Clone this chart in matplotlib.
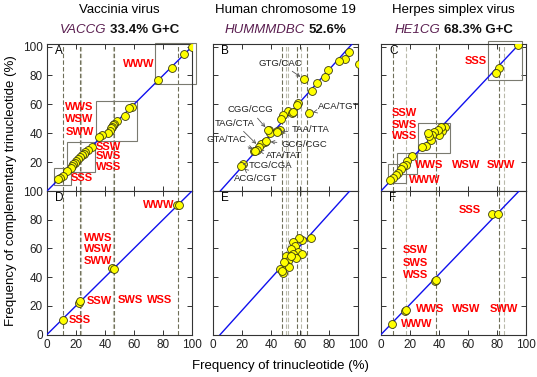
import matplotlib
matplotlib.use("Agg")
import matplotlib.pyplot as plt
from matplotlib.patches import Rectangle
from matplotlib.offsetbox import TextArea, HPacker, AnchoredOffsetbox

plt.rcParams['font.family'] = ['Liberation Sans', 'DejaVu Sans']

# ---- data ----
titles = ["Vaccinia virus", "Human chromosome 19", "Herpes simplex virus"]
codes = ["VACCG", "HUMMMDBC", "HE1CG"]
gc_texts = ["33.4% G+C", "52.6%", "68.3% G+C"]

# A: Vaccinia, all trinucleotide pairs
a_x = [99.8, 94.7, 86.0, 76.8, 58.4, 56.8, 53.8, 48.5, 46.0, 45.3, 44.5, 44.0, 43.5, 42.3, 37.7, 36.1,
       30.8, 28.5, 26.5, 25.7, 24.0, 22.8, 21.5, 20.1, 19.0, 18.2, 17.0, 16.4, 13.6, 10.8, 9.0, 7.9]
a_y = [100.0, 94.7, 85.0, 76.9, 58.5, 57.3, 51.6, 48.2, 46.5, 45.4, 44.0, 43.5, 41.7, 40.1, 38.5, 37.3,
       30.4, 28.6, 27.0, 25.6, 24.8, 23.3, 22.0, 21.0, 19.5, 18.7, 17.1, 16.0, 13.6, 10.6, 9.2, 8.0]
a_boxes = [(5.0, 4.3, 16.3, 15.9), (14.0, 12.9, 33.0, 33.6), (33.8, 34.8, 61.9, 62.4), (74.5, 74.0, 102.8, 102.3)]

# B: human chromosome 19
b_x = [93.5, 91.2, 87.0, 100.5, 79.6, 77.3, 71.5, 62.7, 68.0, 58.8, 58.1, 66.2, 51.9, 54.6, 48.4, 47.2,
       46.5, 44.2, 38.4, 39.6, 38.0, 36.1, 33.3, 31.9, 30.3, 28.5, 20.4, 19.4, 43.8, 36.8, 29.2, 55.0]
b_y = [96.5, 91.4, 90.0, 87.8, 83.9, 79.2, 75.1, 77.4, 69.3, 60.8, 59.4, 53.9, 55.1, 53.9, 52.5, 50.2,
       42.2, 41.5, 42.2, 40.3, 42.0, 34.1, 32.5, 30.6, 28.3, 27.6, 18.7, 17.3, 40.6, 34.3, 27.9, 54.5]
# label, index of point, label position
b_notes = [("GTG/CAC", 7, 46.5, 88.5), ("AAA/TTT", 3, 83.5, 68.9), ("ACA/TGT", 11, 87.0, 58.5),
           ("CGG/CCG", 20, 25.7, 56.2), ("TAG/CTA", 23, 15.3, 47.0), ("TAA/TTA", 28, 67.4, 42.4),
           ("GTA/TAC", 24, 9.5, 35.9), ("GCG/CGC", 29, 62.7, 32.0), ("ATA/TAT", 30, 48.8, 24.7),
           ("TCG/CGA", 26, 39.6, 17.5), ("ACG/CGT", 27, 29.2, 9.0)]

# C: herpes simplex
c_x = [94.4, 81.3, 79.0, 44.2, 41.9, 41.2, 40.0, 39.0, 36.6, 35.4, 34.3, 33.1, 32.4, 30.8, 28.5,
       21.5, 18.0, 16.9, 15.5, 14.1, 11.8, 10.0, 8.1, 6.5]
c_y = [101.1, 85.0, 81.5, 44.0, 41.7, 44.0, 38.5, 42.4, 40.6, 38.5, 35.5, 37.8, 40.0, 30.9, 30.2,
       24.0, 20.5, 18.2, 17.0, 15.2, 12.4, 11.3, 9.0, 7.8]
c_boxes = [(74.1, 76.9, 97.4, 103.9), (25.7, 26.3, 47.4, 47.0), (11.1, 11.7, 25.0, 26.3), (4.9, 5.5, 16.9, 18.7)]

# D, E, F: group means
d_x = [11.3, 22.3, 22.8, 45.0, 46.0, 89.5, 91.3]
d_y = [10.2, 22.0, 23.6, 46.5, 45.5, 90.2, 90.0]
e_x = [67.4, 61.1, 59.3, 55.1, 56.5, 53.5, 58.8, 61.6, 55.1, 50.0, 56.9, 51.9, 50.0, 46.5, 48.1, 52.3,
       53.5, 49.3, 47.4]
e_y = [67.4, 65.7, 66.9, 64.5, 61.5, 59.9, 57.6, 56.4, 56.4, 54.8, 53.4, 51.0, 48.3, 45.9, 43.1, 47.0,
       55.0, 50.6, 44.5]
f_x = [76.5, 80.8, 37.5, 38.0, 16.8, 17.4, 7.8]
f_y = [83.7, 83.7, 37.5, 38.3, 16.5, 17.4, 7.5]

# group words: (word, x, y)
a_words = [("WWW", 63.5, 88.0), ("WWS", 22.5, 58.5), ("WSW", 22.5, 49.8), ("SWW", 22.5, 40.6),
           ("SSW", 42.3, 30.4), ("SWS", 42.3, 24.0), ("WSS", 42.3, 16.6), ("SSS", 23.9, 9.0)]
d_words = [("WWW", 76.8, 90.2), ("WWS", 35.4, 67.3), ("WSW", 35.4, 59.9), ("SWW", 35.4, 51.0),
           ("SSW", 36.1, 23.1), ("SWS", 57.2, 23.8), ("WSS", 77.9, 23.8), ("SSS", 22.3, 9.8)]
c_words = [("SSS", 65.5, 90.0), ("SSW", 16.2, 53.9), ("SWS", 16.2, 45.8), ("WSS", 16.2, 38.2),
           ("WWS", 33.1, 18.2), ("WSW", 58.5, 18.2), ("SWW", 82.9, 18.2), ("WWW", 30.3, 7.8)]
f_words = [("SSS", 60.9, 86.7), ("SSW", 23.8, 59.2), ("SWS", 23.8, 50.1), ("WSS", 23.8, 41.3),
           ("WWS", 33.6, 17.5), ("WSW", 58.6, 17.5), ("SWW", 84.5, 17.5), ("WWW", 24.3, 7.5)]

# fitted lines (slope, intercept) per panel
fits = {"A": (1.0, 0.0), "B": (1.12, -5.6), "C": (1.067, 0.0),
        "D": (1.0, 0.0), "E": (1.12, -5.6), "F": (1.05, 0.0)}

# vertical guide lines per column: dark, light
guides_dark = [[10.8, 22.8, 46.5, 90.0], [47.5, 58.0, 64.5], [8.1, 37.7, 81.7]]
guides_light = [[23.4, 45.6], [50.0, 52.0, 61.0], [17.0, 85.0]]

# ---- figure ----
W, H = 537, 377
fig = plt.figure(figsize=(W / 100, H / 100), dpi=100)

col_left = [47, 213, 381]
col_w = 145
up_top, mid, low_bot = 43.7, 191, 334.5


def make_ax(col, upper):
    l = col_left[col]
    if upper:
        t, b = up_top, mid
    else:
        t, b = mid, low_bot
    ax = fig.add_axes([l / W, 1 - b / H, col_w / W, (b - t) / H])
    ax.set_xlim(0, 100)
    ax.set_ylim(0, 102 if upper else 100)
    ax.set_xticks(range(0, 101, 20))
    ax.set_yticks(range(0, 101, 20))
    ax.tick_params(direction='in', length=3.5, width=0.7, top=True, right=True,
                   labelsize=8.5, colors='#333333', labelcolor='#222222', pad=3)
    for s in ax.spines.values():
        s.set_color('#333333')
        s.set_linewidth(0.8)
    if upper:
        ax.tick_params(labelbottom=False)
    if col != 0:
        ax.tick_params(labelleft=False)
    return ax


def draw_panel(ax, col, letter, xs, ys, words=(), boxes=(), upper=True):
    for gx in guides_dark[col]:
        ax.axvline(gx, color='#6e6e58', lw=0.8, ls=(0, (4, 2)), zorder=1)
    for gx in guides_light[col]:
        ax.axvline(gx, color='#b9b9aa', lw=0.8, ls=(0, (4, 2)), zorder=1)
    for (x0, y0, x1, y1) in boxes:
        ax.add_patch(Rectangle((x0, y0), x1 - x0, y1 - y0, fill=False, ec='#7a7a70',
                               lw=0.8, clip_on=False, zorder=2))
    k, c0 = fits[letter]
    ax.plot([0, 100], [c0, c0 + 100 * k], color='#1010ee', lw=1.0, zorder=3)
    ax.scatter(xs, ys, s=32, c='#ffff00', edgecolors='#3a3a10', linewidths=0.6,
               zorder=4, clip_on=True)
    for w, x, y in words:
        ax.text(x, y, w, color='#ff0000', fontsize=8, fontweight='bold',
                ha='center', va='center', zorder=5)
    ax.text(0.055, 0.95, letter, transform=ax.transAxes, fontsize=8.5,
            ha='left', va='center', zorder=6)


axA = make_ax(0, True)
draw_panel(axA, 0, "A", a_x, a_y, a_words, a_boxes)
axA.set_yticks(range(20, 101, 20))
axB = make_ax(1, True)
draw_panel(axB, 1, "B", b_x, b_y)
for lab, idx, tx, ty in b_notes:
    axB.annotate(lab, xy=(b_x[idx], b_y[idx]), xytext=(tx, ty), fontsize=6.8, color='#222222',
                 ha='center', va='center', zorder=5,
                 arrowprops=dict(arrowstyle='->', color='#555555', lw=0.6,
                                 shrinkA=1, shrinkB=3, mutation_scale=6))
axC = make_ax(2, True)
draw_panel(axC, 2, "C", c_x, c_y, c_words, c_boxes)

axD = make_ax(0, False)
draw_panel(axD, 0, "D", d_x, d_y, d_words, upper=False)
axE = make_ax(1, False)
draw_panel(axE, 1, "E", e_x, e_y, upper=False)
axF = make_ax(2, False)
draw_panel(axF, 2, "F", f_x, f_y, f_words, upper=False)

# titles
for col, ax in enumerate([axA, axB, axC]):
    cx = (col_left[col] + col_w / 2) / W
    fig.text(cx, 1 - 10 / H, titles[col], fontsize=9.5, ha='center', va='center')
    box = HPacker(children=[
        TextArea(codes[col], textprops=dict(fontsize=9.5, style='italic', color='#5a1e50')),
        TextArea(gc_texts[col], textprops=dict(fontsize=9.5, fontweight='bold', color='#111111')),
    ], align='baseline', pad=0, sep=3)
    anc = AnchoredOffsetbox(loc='center', child=box, frameon=False, pad=0, borderpad=0,
                            bbox_to_anchor=(cx, 1 - 30 / H), bbox_transform=fig.transFigure)
    fig.add_artist(anc)

fig.text(280 / W, 1 - 366 / H, "Frequency of trinucleotide (%)", fontsize=9.5,
         ha='center', va='center')
fig.text(11 / W, 1 - 191 / H, "Frequency of complementary trinucleotide (%)", fontsize=9.5,
         ha='center', va='center', rotation=90)

fig.savefig("out.png", dpi=100)
